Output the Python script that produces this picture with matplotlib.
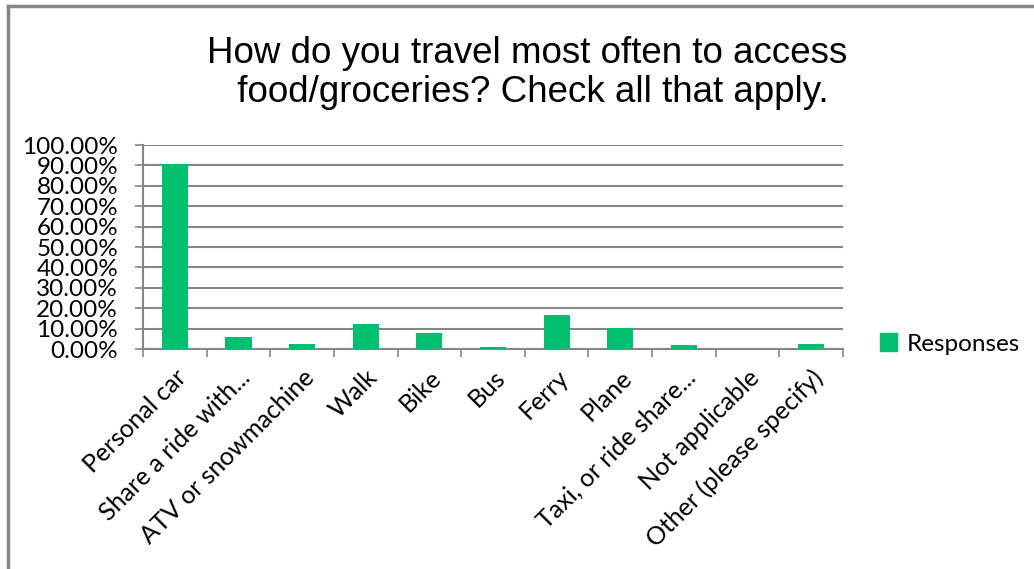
import numpy as np
import matplotlib.pyplot as plt
from matplotlib.lines import Line2D
from matplotlib.patches import Patch

categories = ['Personal car', 'Share a ride with...', 'ATV or snowmachine', 'Walk', 'Bike',
              'Bus', 'Ferry', 'Plane', 'Taxi, or ride share...', 'Not applicable',
              'Other (please specify)']
responses = [0.905, 0.060, 0.024, 0.124, 0.078, 0.010, 0.168, 0.103, 0.018, 0.0, 0.026]
yticks = np.arange(0, 1.01, 0.1)
ylabels = ['%.2f%%' % (v * 100) for v in yticks]

green = '#00BF6F'
grey = '#868686'
lab_font = 'Lato'

fig = plt.figure(figsize=(10.34, 5.69), dpi=100)
ax = fig.add_axes([143/1034, 1-349/569, 700/1034, 204/569])

x = np.arange(len(categories))
ax.bar(x, responses, width=0.41, color=green, zorder=3)
ax.set_xlim(-0.5, len(categories) - 0.5)
ax.set_ylim(0, 1)

ax.set_yticks(yticks)
ax.set_yticklabels(ylabels, fontsize=17.5, family=lab_font)
ax.yaxis.grid(True, color=grey, linewidth=1.5, zorder=0)
ax.tick_params(axis='y', length=6, width=1.2, color=grey, pad=12)

ax.set_xticks(np.arange(len(categories) + 1) - 0.5, minor=False)
ax.set_xticklabels([])
ax.tick_params(axis='x', length=6, width=1.2, color=grey)
ax.set_xticks(x, minor=True)
ax.set_xticklabels(categories, minor=True, rotation=45, ha='right',
                   rotation_mode='anchor', fontsize=18, family=lab_font)
ax.tick_params(axis='x', which='minor', length=0, pad=12)

for s in ['top', 'right']:
    ax.spines[s].set_visible(False)
for s in ['left', 'bottom']:
    ax.spines[s].set_color(grey)
    ax.spines[s].set_linewidth(1.5)

fig.text(0.51, 1-73/569, 'How do you travel most often to access\n food/groceries? Check all that apply.',
         ha='center', va='center', fontsize=26.5, family='Liberation Sans', linespacing=1.12)

fig.legend(handles=[Patch(color=green, label='Responses')], loc='center left',
           bbox_to_anchor=(858/1034, 1-344/569), frameon=False,
           prop={'family': lab_font, 'size': 17.5}, handlelength=0.7, handleheight=0.7,
           handletextpad=0.4)

# chart border (clipped at right and bottom)
fig.add_artist(Line2D([8/1034, 1], [1-6/569, 1-6/569], color=grey, linewidth=2.5))
fig.add_artist(Line2D([8/1034, 8/1034], [0, 1-6/569], color=grey, linewidth=2.5))

fig.savefig('out.png', dpi=100)
